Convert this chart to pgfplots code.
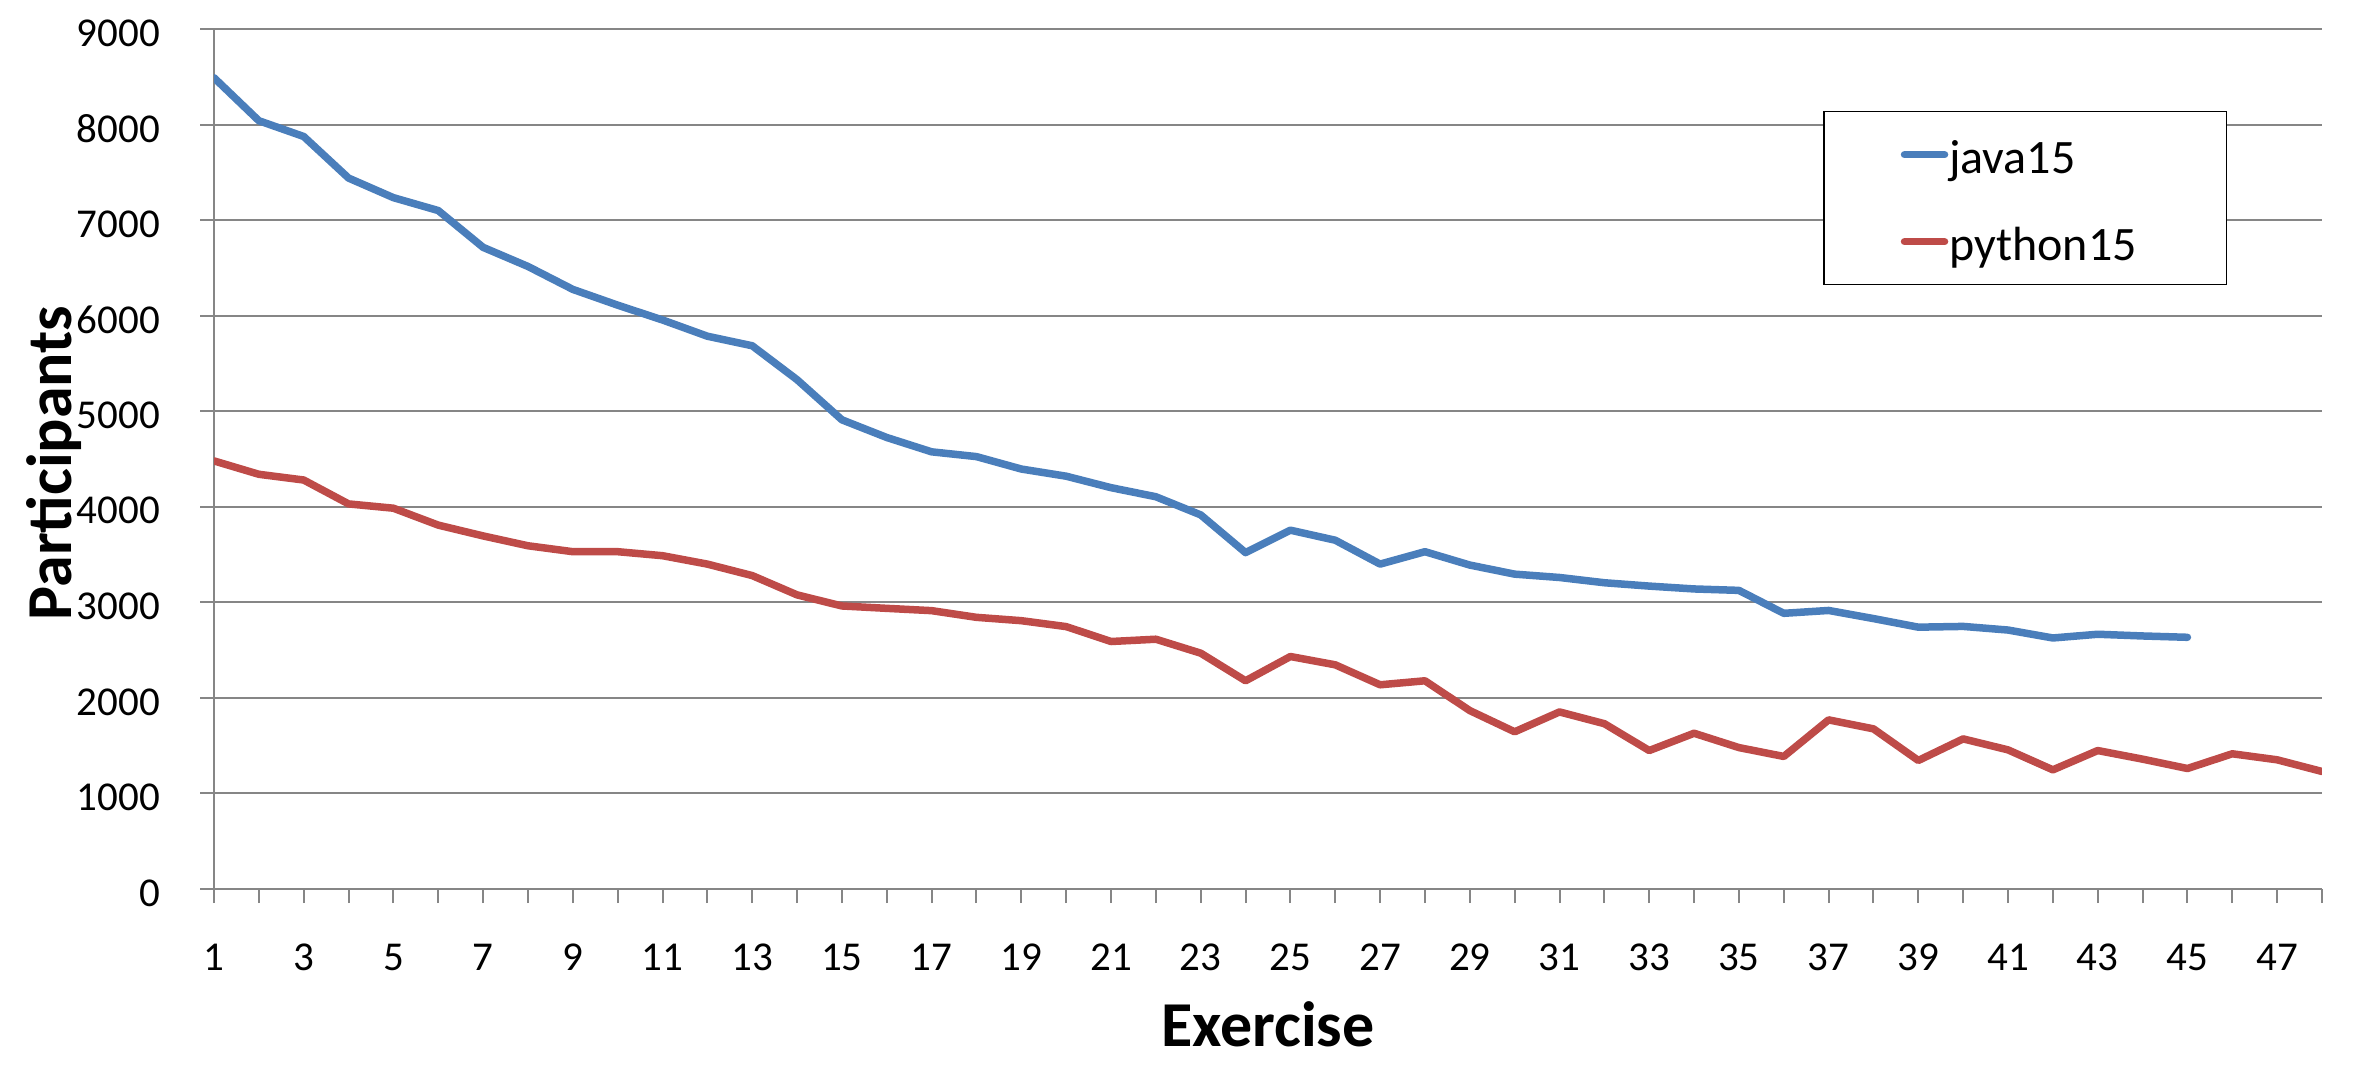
\documentclass[border=0pt]{standalone}
\usepackage{fontspec}
\setmainfont{Carlito}
\usepackage{pgfplots}
\pgfplotsset{compat=1.18}
\definecolor{javablue}{RGB}{74,126,187}
\definecolor{pyred}{RGB}{190,75,72}
\definecolor{gridgray}{RGB}{134,134,134}
\begin{document}
\begin{tikzpicture}
\useasboundingbox (0,0) rectangle (2357pt,1068pt);
\begin{axis}[
  at={(214pt,179pt)}, anchor=south west,
  scale only axis, width=2108pt, height=860pt,
  xmin=1, xmax=48, ymin=0, ymax=9000,
  axis lines*=left,
  axis line style={draw=gridgray, line width=2pt},
  xtick={1,2,...,48},
  xticklabels={1,,3,,5,,7,,9,,11,,13,,15,,17,,19,,21,,23,,25,,27,,29,,31,,33,,35,,37,,39,,41,,43,,45,,47,},
  ytick={0,1000,...,9000},
  scaled y ticks=false,
  /pgf/number format/1000 sep={},
  /pgf/number format/assume math mode=true,
  tick align=outside,
  major tick length=14pt,
  tick style={draw=gridgray, line width=2pt},
  ymajorgrids,
  grid style={draw=gridgray, line width=2pt},
  tick label style={font=\fontsize{41}{49}\selectfont, inner sep=0pt},
  xticklabel style={yshift=-41pt},
  yticklabel style={xshift=-40pt, yshift=-4pt},
  xlabel={Exercise},
  ylabel={Participants},
  label style={font=\fontsize{64}{76}\selectfont\bfseries, inner sep=0pt},
  xlabel style={at={(axis description cs:0.5,-0.1826)}, anchor=base},
  ylabel style={at={(axis description cs:-0.0678,0.4953)}, anchor=base},
  legend image code/.code={\draw[#1, line cap=round] (0pt,0pt) -- (40pt,0pt);},
  legend style={
    at={(rel axis cs:0.7633,0.9047)}, anchor=north west,
    draw=black, line width=1.5pt, fill=white,
    inner xsep=77pt, inner ysep=21pt,
    /tikz/row sep=43pt, /tikz/column sep=1pt,
    nodes={font=\fontsize{48}{58}\selectfont, inner sep=0pt, text width=200pt, text height=41pt, text depth=3pt, anchor=west},
  },
  legend cell align=left,
]
\addplot[javablue, line width=7.5pt, line join=round, line cap=round] coordinates {
(1,8490) (2,8040) (3,7875) (4,7440) (5,7235) (6,7100) (7,6715) (8,6515) (9,6275) (10,6110)
(11,5955) (12,5785) (13,5685) (14,5330) (15,4910) (16,4725) (17,4575) (18,4525) (19,4395) (20,4320)
(21,4200) (22,4105) (23,3915) (24,3520) (25,3755) (26,3650) (27,3400) (28,3530) (29,3390) (30,3295)
(31,3260) (32,3205) (33,3170) (34,3140) (35,3125) (36,2885) (37,2915) (38,2830) (39,2740) (40,2748)
(41,2710) (42,2627) (43,2666) (44,2648) (45,2634)
};
\addlegendentry{java15}
\addplot[pyred, line width=7.5pt, line join=round, line cap=round] coordinates {
(1,4480) (2,4340) (3,4280) (4,4030) (5,3985) (6,3808) (7,3695) (8,3592) (9,3530) (10,3530)
(11,3488) (12,3400) (13,3280) (14,3078) (15,2962) (16,2937) (17,2913) (18,2843) (19,2808) (20,2746)
(21,2590) (22,2614) (23,2468) (24,2179) (25,2433) (26,2346) (27,2137) (28,2179) (29,1867) (30,1645)
(31,1853) (32,1730) (33,1449) (34,1630) (35,1480) (36,1387) (37,1770) (38,1676) (39,1345) (40,1571)
(41,1456) (42,1247) (43,1449) (44,1359) (45,1261) (46,1415) (47,1352) (48,1230)
};
\addlegendentry{python15}
\end{axis}
\end{tikzpicture}
\end{document}
